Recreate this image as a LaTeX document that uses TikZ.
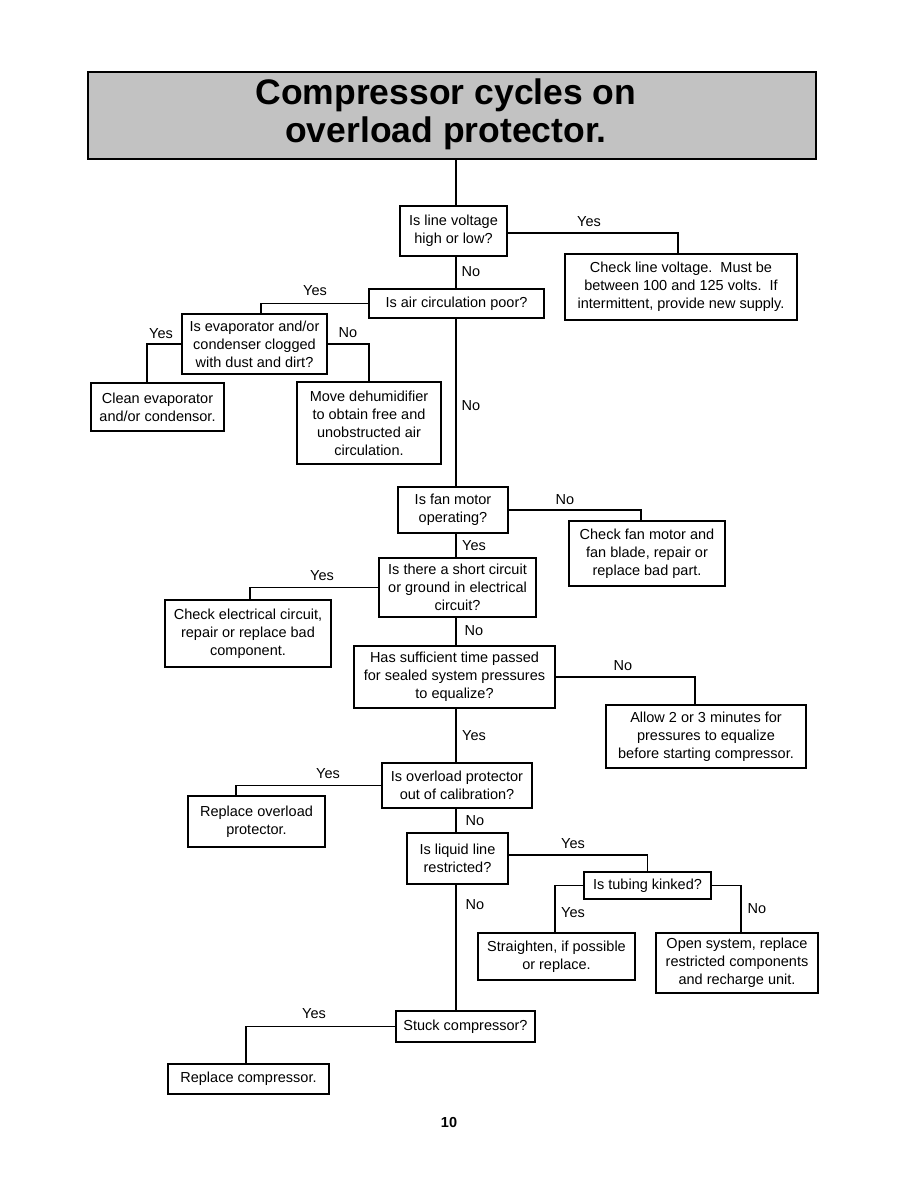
\documentclass[tikz,border=0pt]{standalone}
\usepackage{fontspec}
\setmainfont{Liberation Sans}
\begin{document}
\begin{tikzpicture}[x=1pt,y=-1pt,
  box/.style={draw, line width=1.3pt, align=center, inner sep=0pt, font=\fontsize{14.5}{18}\selectfont},
  lbl/.style={inner sep=0pt, font=\fontsize{14.5}{18}\selectfont},
  conn/.style={line width=1.3pt}]
\useasboundingbox (0,0) rectangle (918,1188);
\fill[white] (0,0) rectangle (918,1188);
% title
\node[draw, line width=1.3pt, fill=black!24, minimum width=728pt, minimum height=87pt, inner sep=0pt] (tbox) at (452,115.5) {};
\node[align=center, inner sep=0pt, font=\bfseries\fontsize{35.5}{38}\selectfont] (title) at (446,114) {Compressor cycles on\\overload protector.};
\coordinate (sp) at (456,0);
% boxes
\node[box, minimum width=107pt, minimum height=50pt] (b1) at (453.5,231) {Is line voltage\\high or low?};
\node[box, minimum width=232pt, minimum height=66pt] (b2) at (681,287) {Check line voltage.\ \ Must be\\between 100 and 125 volts.\ \ If\\intermittent, provide new supply.};
\node[box, minimum width=175pt, minimum height=29pt] (b3) at (456.5,303.5) {Is air circulation poor?};
\node[box, minimum width=145pt, minimum height=60pt] (b4) at (254.5,344) {Is evaporator and/or\\condenser clogged\\with dust and dirt?};
\node[box, minimum width=133pt, minimum height=48pt] (b5) at (157.5,407) {Clean evaporator\\and/or condensor.};
\node[box, minimum width=144pt, minimum height=82pt] (b6) at (369,423) {Move dehumidifier\\to obtain free and\\unobstructed air\\circulation.};
\node[box, minimum width=110pt, minimum height=46pt] (b7) at (453,510) {Is fan motor\\operating?};
\node[box, minimum width=156pt, minimum height=65pt] (b8) at (647,553.5) {Check fan motor and\\fan blade, repair or\\replace bad part.};
\node[box, minimum width=157pt, minimum height=59pt] (b9) at (457.5,587.5) {Is there a short circuit\\or ground in electrical\\circuit?};
\node[box, minimum width=166pt, minimum height=67pt] (b10) at (248,633.5) {Check electrical circuit,\\repair or replace bad\\component.};
\node[box, minimum width=201pt, minimum height=62pt] (b11) at (454.5,677) {Has sufficient time passed\\for sealed system pressures\\to equalize?};
\node[box, minimum width=200pt, minimum height=63pt] (b12) at (706,736.5) {Allow 2 or 3 minutes for\\pressures to equalize\\before starting compressor.};
\node[box, minimum width=150pt, minimum height=45pt] (b13) at (457,785.5) {Is overload protector\\out of calibration?};
\node[box, minimum width=137pt, minimum height=51pt] (b14) at (256.5,821.5) {Replace overload\\protector.};
\node[box, minimum width=101pt, minimum height=51pt] (b15) at (457.5,858.5) {Is liquid line\\restricted?};
\node[box, minimum width=127pt, minimum height=27pt] (b16) at (647.5,885.5) {Is tubing kinked?};
\node[box, minimum width=157pt, minimum height=47pt] (b17) at (556.5,956.5) {Straighten, if possible\\or replace.};
\node[box, minimum width=162pt, minimum height=60pt] (b18) at (737,963) {Open system, replace\\restricted components\\and recharge unit.};
\node[box, minimum width=139pt, minimum height=31pt] (b19) at (465.5,1026.5) {Stuck compressor?};
\node[box, minimum width=161pt, minimum height=30pt] (b20) at (248.5,1079) {Replace compressor.};
% spine
\draw[conn] (sp |- tbox.south) -- (sp |- b1.north);
\draw[conn] (sp |- b1.south) -- (sp |- b3.north);
\draw[conn] (sp |- b3.south) -- (sp |- b7.north);
\draw[conn] (sp |- b7.south) -- (sp |- b9.north);
\draw[conn] (sp |- b9.south) -- (sp |- b11.north);
\draw[conn] (sp |- b11.south) -- (sp |- b13.north);
\draw[conn] (sp |- b13.south) -- (sp |- b15.north);
\draw[conn] (sp |- b15.south) -- (sp |- b19.north);
% branches
\draw[conn] ([yshift=-2pt]b1.east) -| ([xshift=-3pt]b2.north);
\draw[conn] (b3.west) -| ([xshift=6.5pt]b4.north);
\draw[conn] (b4.west) -| ([xshift=-10.5pt]b5.north);
\draw[conn] (b4.east) -| (b6.north);
\draw[conn] (b7.east) -| ([xshift=-6pt]b8.north);
\draw[conn] (b9.west) -| ([xshift=2pt]b10.north);
\draw[conn] (b11.east) -| ([xshift=-11pt]b12.north);
\draw[conn] (b13.west) -| ([xshift=-20.5pt]b14.north);
\draw[conn] ([yshift=3.5pt]b15.east) -| (b16.north);
\draw[conn] (b16.west) -| ([xshift=-1.5pt]b17.north);
\draw[conn] (b16.east) -| ([xshift=4pt]b18.north);
\draw[conn] (b19.west) -| ([xshift=-2.5pt]b20.north);
% labels
\node[lbl] (l1) at (589,222) {Yes};
\node[lbl] (l2) at (471,272) {No};
\node[lbl] (l3) at (315,291) {Yes};
\node[lbl] (l4) at (161,334) {Yes};
\node[lbl] (l5) at (348,333) {No};
\node[lbl] (l6) at (471,406) {No};
\node[lbl] (l7) at (565,500) {No};
\node[lbl] (l8) at (474,546) {Yes};
\node[lbl] (l9) at (322,576) {Yes};
\node[lbl] (l10) at (474,631) {No};
\node[lbl] (l11) at (623,666) {No};
\node[lbl] (l12) at (474,736) {Yes};
\node[lbl] (l13) at (328,774) {Yes};
\node[lbl] (l14) at (475,821) {No};
\node[lbl] (l15) at (573,844) {Yes};
\node[lbl] (l16) at (573,913) {Yes};
\node[lbl] (l17) at (757,909) {No};
\node[lbl] (l18) at (475,905) {No};
\node[lbl] (l19) at (314,1014) {Yes};
\node[inner sep=0pt, font=\bfseries\fontsize{14.5}{18}\selectfont] (pg) at (449,1122) {10};
\end{tikzpicture}
\end{document}
